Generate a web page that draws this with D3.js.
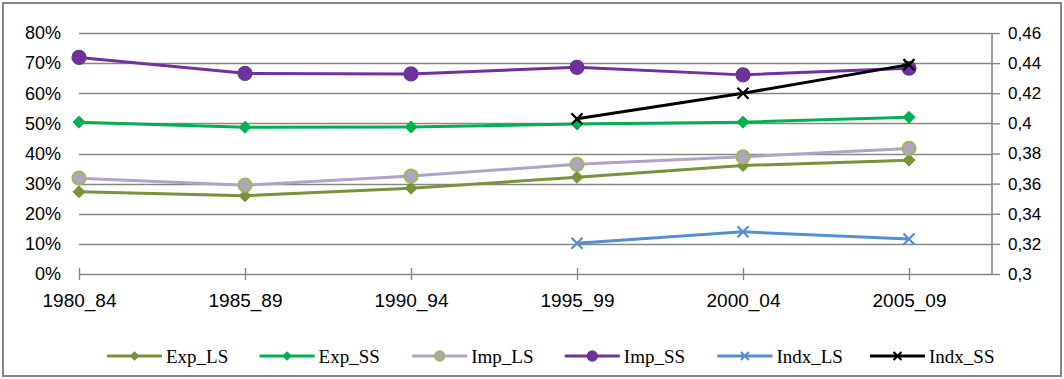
<!DOCTYPE html>
<html>
<head>
<meta charset="utf-8">
<script src="https://cdn.jsdelivr.net/npm/d3@7"></script>
<style>
  html, body { margin: 0; padding: 0; background: #fff; }
  svg { display: block; }
</style>
</head>
<body>
<svg id="chart" width="1064" height="379"></svg>
<script>
// Periods on the category axis
const periods = ["1980_84", "1985_89", "1990_94", "1995_99", "2000_04", "2005_09"];

// Shares (left axis)
const expLS = [0.273, 0.260, 0.285, 0.321, 0.360, 0.378];
const expSS = [0.504, 0.487, 0.488, 0.498, 0.504, 0.520];
const impLS = [0.318, 0.295, 0.325, 0.364, 0.389, 0.417];
const impSS = [0.719, 0.666, 0.664, 0.686, 0.661, 0.683];

// Indices (right axis), available from 1995_99 onward
const indxLS = [null, null, null, 0.3204, 0.328, 0.3232];
const indxSS = [null, null, null, 0.403, 0.420, 0.439];

// Axis ticks
const leftTicks = [0, 0.1, 0.2, 0.3, 0.4, 0.5, 0.6, 0.7, 0.8];
const rightTicks = [0.30, 0.32, 0.34, 0.36, 0.38, 0.40, 0.42, 0.44, 0.46];

const series = [
  { name: "Exp_LS",  values: expLS,  axis: "left",  color: "#77933C", marker: "diamond" },
  { name: "Exp_SS",  values: expSS,  axis: "left",  color: "#00B050", marker: "diamond" },
  { name: "Imp_LS",  values: impLS,  axis: "left",  color: "#B3A2C7", marker: "circleRing" },
  { name: "Imp_SS",  values: impSS,  axis: "left",  color: "#7030A0", marker: "circle" },
  { name: "Indx_LS", values: indxLS, axis: "right", color: "#558ED5", marker: "x" },
  { name: "Indx_SS", values: indxSS, axis: "right", color: "#000000", marker: "x" }
];

const svg = d3.select("#chart");
const W = 1064, H = 379;
const gridColor = "#868686";
const axisFont = "'Liberation Sans', Arial, sans-serif";

// Plot frame
const plot = { left: 79, right: 992, top: 33, bottom: 274 };
const step = 166;

const x = d3.scalePoint()
  .domain(periods)
  .range([plot.left, plot.left + step * (periods.length - 1)]);

const yL = d3.scaleLinear().domain([0, 0.8]).range([plot.bottom, plot.top]);
const yR = d3.scaleLinear().domain([0.30, 0.46]).range([plot.bottom, plot.top]);

// Outer border
svg.append("rect")
  .attr("x", 3).attr("y", 3)
  .attr("width", W - 6).attr("height", H - 6)
  .attr("fill", "#fff")
  .attr("stroke", gridColor).attr("stroke-width", 2);

// Horizontal gridlines
svg.append("g")
  .selectAll("line")
  .data(leftTicks.filter(d => d > 0))
  .join("line")
  .attr("x1", plot.left).attr("x2", plot.right)
  .attr("y1", d => Math.round(yL(d)) + 0.5)
  .attr("y2", d => Math.round(yL(d)) + 0.5)
  .attr("stroke", gridColor).attr("stroke-width", 1.4);

// Left axis labels
const leftAxis = d3.axisLeft(yL)
  .tickValues(leftTicks)
  .tickFormat(d => Math.round(d * 100) + "%")
  .tickSize(0)
  .tickPadding(18);
const gL = svg.append("g")
  .attr("transform", `translate(${plot.left},0)`)
  .call(leftAxis);
gL.select(".domain").remove();
gL.selectAll("text")
  .attr("font-family", axisFont)
  .attr("font-size", 18)
  .attr("fill", "#000");

// Right axis
const rightAxis = d3.axisRight(yR)
  .tickValues(rightTicks)
  .tickFormat(d => d3.format(".2~f")(d).replace(".", ","))
  .tickSize(8)
  .tickPadding(8);
const gR = svg.append("g")
  .attr("transform", `translate(${plot.right},0)`)
  .call(rightAxis);
gR.select(".domain")
  .attr("stroke", gridColor).attr("stroke-width", 1.6)
  .attr("d", `M0,${plot.top}V${plot.bottom}`);
gR.selectAll(".tick line").attr("stroke", gridColor).attr("stroke-width", 1.4);
gR.selectAll("text")
  .attr("font-family", axisFont)
  .attr("font-size", 17)
  .attr("fill", "#000");

// Category axis
const bottomAxis = d3.axisBottom(x).tickSize(0).tickPadding(20);
const gB = svg.append("g")
  .attr("transform", `translate(0,${plot.bottom})`)
  .call(bottomAxis);
gB.select(".domain").remove();
gB.selectAll("text")
  .attr("font-family", axisFont)
  .attr("font-size", 19)
  .attr("fill", "#000");
gB.append("line")
  .attr("x1", plot.left).attr("x2", plot.right)
  .attr("y1", 0.5).attr("y2", 0.5)
  .attr("stroke", gridColor).attr("stroke-width", 1.4);
gB.selectAll(".tick").append("line")
  .attr("y1", -6).attr("y2", 6)
  .attr("stroke", gridColor).attr("stroke-width", 1.4);

// Marker drawing
function drawMarker(g, type, color, size) {
  if (type === "diamond") {
    const s = size;
    g.append("path")
      .attr("d", `M0,${-s}L${s},0L0,${s}L${-s},0Z`)
      .attr("fill", color).attr("stroke", color).attr("stroke-width", 1);
  } else if (type === "circle") {
    g.append("circle").attr("r", size)
      .attr("fill", color).attr("stroke", "#5F3A85").attr("stroke-width", 1.2);
  } else if (type === "circleRing") {
    g.append("circle").attr("r", size - 0.5)
      .attr("fill", color).attr("stroke", "#9BBB59").attr("stroke-width", 2.2);
  } else if (type === "x") {
    const s = size;
    g.append("path")
      .attr("d", `M${-s},${-s}L${s},${s}M${-s},${s}L${s},${-s}`)
      .attr("fill", "none").attr("stroke", color).attr("stroke-width", 2.2);
  }
}

const markerSize = { diamond: 6, circle: 7, circleRing: 7, x: 5.5 };

// Series lines and markers
series.forEach(s => {
  const yS = s.axis === "left" ? yL : yR;
  const pts = periods.map((p, i) => ({ p, v: s.values[i] })).filter(d => d.v != null);
  const line = d3.line().x(d => x(d.p)).y(d => yS(d.v));
  const g = svg.append("g").attr("class", "series");
  g.append("path")
    .datum(pts)
    .attr("d", line)
    .attr("fill", "none")
    .attr("stroke", s.color)
    .attr("stroke-width", 3)
    .attr("stroke-linejoin", "round");
  pts.forEach(d => {
    const mg = g.append("g").attr("transform", `translate(${x(d.p)},${yS(d.v)})`);
    drawMarker(mg, s.marker, s.color, markerSize[s.marker]);
  });
});

// Legend
const legend = svg.append("g").attr("transform", "translate(107,356)");
const legendStep = 152.6;
series.forEach((s, i) => {
  const g = legend.append("g").attr("transform", `translate(${i * legendStep},0)`);
  g.append("line")
    .attr("x1", 0).attr("x2", 55).attr("y1", 0).attr("y2", 0)
    .attr("stroke", s.color).attr("stroke-width", 3);
  const mg = g.append("g").attr("transform", "translate(27.5,0)");
  drawMarker(mg, s.marker, s.color, markerSize[s.marker] * 0.72);
  g.append("text")
    .attr("x", 59).attr("y", 7)
    .attr("font-family", "'Liberation Serif', 'Times New Roman', serif")
    .attr("font-size", 19)
    .attr("fill", "#000")
    .text(s.name);
});
</script>
</body>
</html>
